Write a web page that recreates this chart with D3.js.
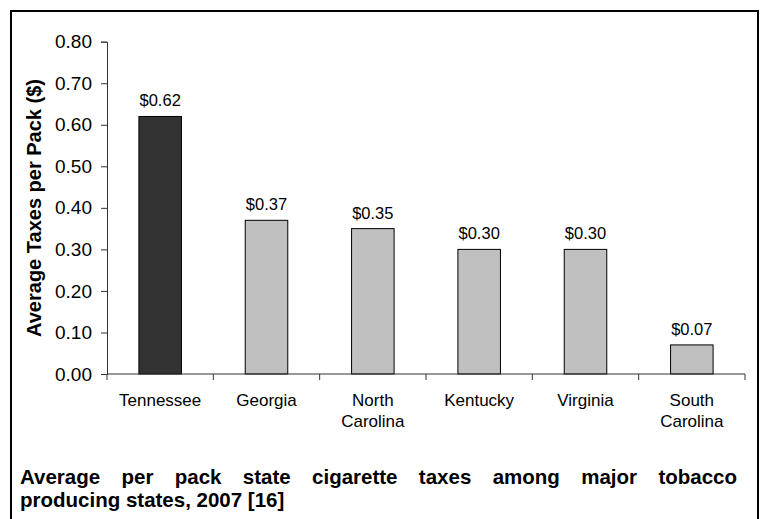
<!DOCTYPE html>
<html>
<head>
<meta charset="utf-8">
<script src="https://cdn.jsdelivr.net/npm/d3@7"></script>
<style>
  html, body { margin: 0; padding: 0; background: #fff; }
  svg { display: block; }
  text { font-family: "Liberation Sans", Arial, sans-serif; fill: #000; }
</style>
</head>
<body>
<svg id="chart" width="765" height="519"></svg>
<script>
const categories = ["Tennessee", "Georgia", "North Carolina", "Kentucky", "Virginia", "South Carolina"];
const taxValues = [0.62, 0.37, 0.35, 0.30, 0.30, 0.07];
const barColors = ["#333333", "#c0c0c0", "#c0c0c0", "#c0c0c0", "#c0c0c0", "#c0c0c0"];
const yTicks = [0, 0.1, 0.2, 0.3, 0.4, 0.5, 0.6, 0.7, 0.8];
const yAxisTitle = "Average Taxes per Pack ($)";
const titleLines = ["Average per pack state cigarette taxes among major tobacco", "producing states, 2007 [16]"];

const svg = d3.select("#chart");

// outer frame
svg.append("rect")
  .attr("x", 11).attr("y", 11)
  .attr("width", 747).attr("height", 530)
  .attr("fill", "none").attr("stroke", "#000").attr("stroke-width", 2);

const plot = { left: 107, right: 745, top: 41.7, bottom: 374 };

const x = d3.scaleBand().domain(categories).range([plot.left, plot.right]).padding(0);
const y = d3.scaleLinear().domain([0, 0.8]).range([plot.bottom, plot.top]);

// bars
const bw = x.bandwidth();
svg.append("g").selectAll("rect")
  .data(categories)
  .join("rect")
  .attr("x", d => x(d) + bw * 0.3)
  .attr("width", bw * 0.4)
  .attr("y", (d, i) => y(taxValues[i]))
  .attr("height", (d, i) => y(0) - y(taxValues[i]))
  .attr("fill", (d, i) => barColors[i])
  .attr("stroke", "#000")
  .attr("stroke-width", 1);

// value labels
svg.append("g").selectAll("text")
  .data(categories)
  .join("text")
  .attr("x", d => x(d) + bw / 2)
  .attr("y", (d, i) => y(taxValues[i]) - 10)
  .attr("text-anchor", "middle")
  .attr("font-size", 16.5)
  .text((d, i) => "$" + taxValues[i].toFixed(2));

// y axis
const yAxis = d3.axisLeft(y).tickValues(yTicks).tickFormat(d3.format(".2f")).tickSize(6).tickPadding(9);
const gy = svg.append("g").attr("transform", `translate(${plot.left},0)`).call(yAxis);
gy.select(".domain").attr("stroke", "#333");
gy.selectAll(".tick line").attr("stroke", "#333");
gy.selectAll(".tick text").attr("font-size", 19).attr("font-family", "Liberation Sans, Arial, sans-serif").attr("fill", "#000");

// x axis: baseline + boundary ticks
const gx = svg.append("g");
gx.append("line")
  .attr("x1", plot.left).attr("x2", plot.right)
  .attr("y1", y(0)).attr("y2", y(0))
  .attr("stroke", "#333");
const boundaries = categories.map(c => x(c)).concat([x(categories[categories.length - 1]) + bw]);
gx.selectAll("line.tk")
  .data(boundaries)
  .join("line")
  .attr("class", "tk")
  .attr("x1", d => d).attr("x2", d => d)
  .attr("y1", y(0)).attr("y2", y(0) + 6)
  .attr("stroke", "#333");

// category labels
const catLabels = gx.selectAll("text.cat")
  .data(categories)
  .join("text")
  .attr("class", "cat")
  .attr("text-anchor", "middle")
  .attr("font-size", 17)
  .attr("x", d => x(d) + bw / 2)
  .attr("y", 406);
catLabels.each(function(d) {
  const words = d.split(" ");
  const t = d3.select(this);
  words.forEach((w, i) => {
    t.append("tspan").attr("x", x(d) + bw / 2).attr("dy", i === 0 ? 0 : 21).text(w);
  });
});

// y axis title
svg.append("text")
  .attr("transform", "translate(41,208) rotate(-90)")
  .attr("text-anchor", "middle")
  .attr("font-size", 20)
  .attr("font-weight", "bold")
  .text(yAxisTitle);

// caption: first line justified by word spacing
const capLeft = 20, capRight = 737;
const line1 = svg.append("g");
const words = titleLines[0].split(" ");
const wordNodes = words.map(w => line1.append("text")
  .attr("y", 484).attr("font-size", 20.5).attr("font-weight", "bold").text(w));
const widths = wordNodes.map(n => n.node().getComputedTextLength());
const totalW = d3.sum(widths);
const gap = (capRight - capLeft - totalW) / (words.length - 1);
let cx = capLeft;
wordNodes.forEach((n, i) => { n.attr("x", cx); cx += widths[i] + gap; });

svg.append("text")
  .attr("x", capLeft).attr("y", 507)
  .attr("font-size", 20.5).attr("font-weight", "bold")
  .text(titleLines[1]);
</script>
</body>
</html>
